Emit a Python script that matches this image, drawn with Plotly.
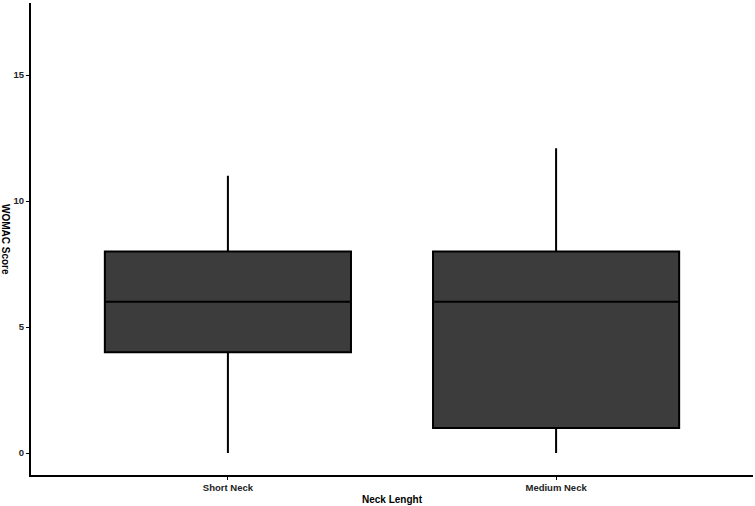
import plotly.graph_objects as go

categories = ["Short Neck", "Medium Neck"]
lower = [0, 0]
q1 = [4, 1]
median = [6, 6]
q3 = [8, 8]
upper = [11, 12.1]
y_ticks = [0, 5, 10, 15]

fig = go.Figure()
fig.add_trace(go.Box(
    x=categories,
    lowerfence=lower, q1=q1, median=median, q3=q3, upperfence=upper,
    fillcolor="#3c3c3c",
    line=dict(color="black", width=2),
    whiskerwidth=0,
    width=0.75,
    boxpoints=False,
    showlegend=False,
    hoverinfo="skip",
))

font_bold = dict(family="Liberation Sans, Arial, sans-serif", size=9.5, color="#222222", weight="bold")

fig.update_layout(
    width=755, height=506,
    margin=dict(l=31, r=2, t=3, b=31),
    paper_bgcolor="white", plot_bgcolor="white",
    xaxis=dict(
        range=[-0.6, 1.6], showline=True, linecolor="black", linewidth=2,
        ticks="outside", ticklen=3, tickcolor="black", tickwidth=1,
        tickfont=font_bold, showgrid=False, zeroline=False,
        title=dict(text="Neck Lenght", font=dict(family="Liberation Sans, Arial, sans-serif", size=10, color="black", weight="bold"), standoff=4),
    ),
    yaxis=dict(
        range=[-0.87, 17.86], showline=True, linecolor="black", linewidth=2,
        ticks="outside", ticklen=3, tickcolor="black", tickwidth=1,
        tickvals=y_ticks, tickfont=font_bold, showgrid=False, zeroline=False,
    ),
    annotations=[dict(
        text="WOMAC Score", xref="paper", yref="paper", x=0, y=0.5,
        xshift=-25, xanchor="center", yanchor="middle", showarrow=False,
        textangle=90,
        font=dict(family="Liberation Sans, Arial, sans-serif", size=10, color="black", weight="bold"),
    )],
)

fig.write_html("out.html")
